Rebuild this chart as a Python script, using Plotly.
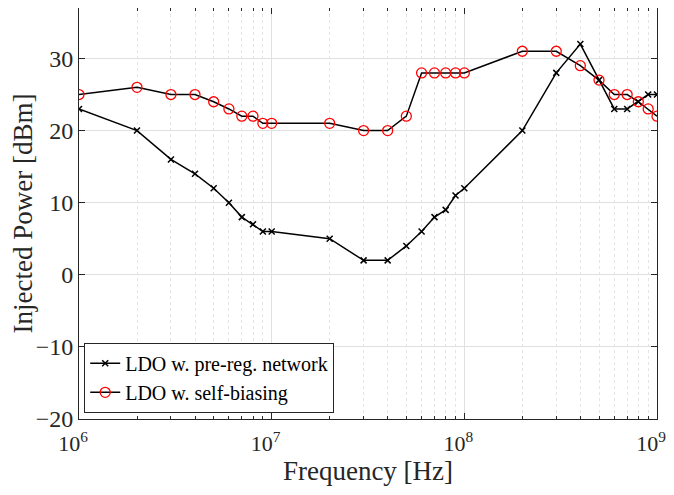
import plotly.graph_objects as go

freq = [1e6, 2e6, 3e6, 4e6, 5e6, 6e6, 7e6, 8e6, 9e6, 1e7, 2e7, 3e7, 4e7, 5e7,
        6e7, 7e7, 8e7, 9e7, 1e8, 2e8, 3e8, 4e8, 5e8, 6e8, 7e8, 8e8, 9e8, 1e9]
pre_reg = [23, 20, 16, 14, 12, 10, 8, 7, 6, 6, 5, 2, 2, 4,
           6, 8, 9, 11, 12, 20, 28, 32, 27, 23, 23, 24, 25, 25]
self_bias = [25, 26, 25, 25, 24, 23, 22, 22, 21, 21, 21, 20, 20, 22,
             28, 28, 28, 28, 28, 31, 31, 29, 27, 25, 25, 24, 23, 22]
x_tickvals = [1e6, 1e7, 1e8, 1e9]
x_ticktext = ["10<sup>6</sup>", "10<sup>7</sup>", "10<sup>8</sup>", "10<sup>9</sup>"]
x_minor = [m * d for d in (1e6, 1e7, 1e8) for m in range(2, 10)]
y_tickvals = [-20, -10, 0, 10, 20, 30]

FONT = "Liberation Serif, Times New Roman, serif"
fig = go.Figure()
fig.add_trace(go.Scatter(
    x=freq, y=pre_reg, mode="lines+markers", name="LDO w. pre-reg. network",
    line=dict(color="black", width=1.5),
    marker=dict(symbol="x-thin", size=6, line=dict(color="black", width=1.5), color="black")))
fig.add_trace(go.Scatter(
    x=freq, y=self_bias, mode="lines+markers", name="LDO w. self-biasing",
    line=dict(color="black", width=1.5),
    marker=dict(symbol="circle-open", size=10, color="red", line=dict(color="red", width=1.3))))

# page body has an 8px margin; margins compensate so the plot area lands where the reference has it
fig.update_layout(
    width=674, height=495,
    margin=dict(l=71, r=25, t=0, b=84, autoexpand=False),
    paper_bgcolor="white", plot_bgcolor="white",
    font=dict(family=FONT, size=18, color="#262626"),
    showlegend=True,
    legend=dict(x=0.009, y=0.015, xanchor="left", yanchor="bottom",
                bgcolor="white", bordercolor="#262626", borderwidth=1,
                font=dict(family=FONT, size=20, color="black"),
                tracegroupgap=0, itemwidth=30),
    xaxis=dict(type="log", range=[6, 9], automargin=False,
               tickmode="array", tickvals=x_tickvals, ticktext=x_ticktext,
               ticklabeloverflow="allow", ticklabelshift=-6, ticklabelstandoff=5,
               ticks="inside", ticklen=6, tickcolor="#262626",
               showline=True, linecolor="#262626", linewidth=1, mirror="ticks",
               showgrid=True, gridcolor="#e0e0e0", gridwidth=1,
               zeroline=False,
               tickfont=dict(size=22),
               minor=dict(tickmode="array", tickvals=x_minor,
                          ticks="inside", ticklen=3, tickcolor="#262626",
                          showgrid=True, gridcolor="#e4e4e4", griddash="dot"),
               title=dict(text="Frequency [Hz]", font=dict(size=27), standoff=2)),
    yaxis=dict(range=[-20, 37], tickvals=y_tickvals, automargin=False,
               ticks="inside", ticklen=6, tickcolor="#262626",
               showline=True, linecolor="#262626", linewidth=1, mirror="ticks",
               showgrid=True, gridcolor="#e0e0e0", gridwidth=1,
               zeroline=False,
               tickfont=dict(size=24),
               title=dict(text="Injected Power [dBm]", font=dict(size=27), standoff=3)),
)
fig.write_html("out.html")
